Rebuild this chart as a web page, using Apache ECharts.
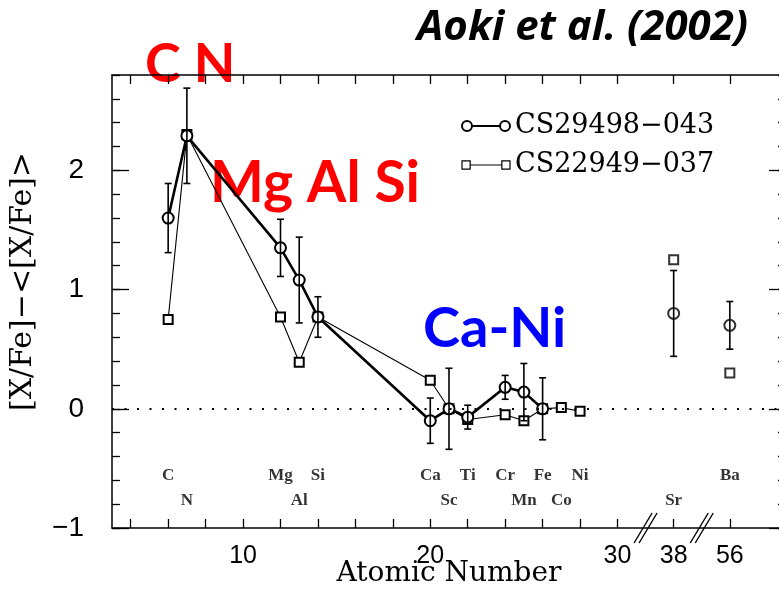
<!DOCTYPE html>
<html><head><meta charset="utf-8">
<script src="https://cdn.jsdelivr.net/npm/echarts@6/dist/echarts.min.js"></script>
<style>html,body{margin:0;padding:0;background:#fff}#c{width:779px;height:595px}</style>
</head><body><div id="c"></div>
<script>
// ---------- data ----------
const elements      = ['C','N','Mg','Al','Si','Ca','Sc','Ti','Cr','Mn','Fe','Co','Ni','Sr','Ba'];
const atomicNumbers = [6, 7, 12, 13, 14, 20, 21, 22, 24, 25, 26, 27, 28, 38, 56];
const labelRows     = [1, 2, 1, 2, 1, 1, 2, 1, 1, 2, 1, 2, 1, 2, 1];

const star1Name   = 'CS29498\u2212043';
const star1Values = [1.60, 2.29, 1.35, 1.08, 0.77, -0.10, 0.00, -0.07, 0.18, 0.14, 0.00, null, null, 0.80, 0.70];
const star1Errors = [0.29, 0.40, 0.24, 0.36, 0.17, 0.19, 0.34, 0.10, 0.10, 0.24, 0.26, null, null, 0.36, 0.20];

const star2Name   = 'CS22949\u2212037';
const star2Values = [0.75, 2.30, 0.77, 0.39, 0.77, 0.24, 0.00, -0.09, -0.05, -0.10, 0.00, 0.01, -0.02, 1.25, 0.30];

// broken axis: atomic numbers beyond 30 are drawn at compressed positions
const brokenAtomicNumbers = [38, 56];
const brokenAxisPositions = [33, 36];
const breakMarkPositions  = [31.5, 34.5];

const xTickLabelValues = [10, 20, 30, 38, 56];
const yTickLabelValues = [-1, 0, 1, 2];

// ---------- helpers ----------
function toAxis(z) {
  const k = brokenAtomicNumbers.indexOf(z);
  return k >= 0 ? brokenAxisPositions[k] : z;
}
const xLabelPositions = xTickLabelValues.map(toAxis);
const xMinorTicks = [];
for (let z = 4; z <= 30; z += 2) xMinorTicks.push(z);
brokenAxisPositions.forEach(p => xMinorTicks.push(p));
const yMinorTicks = [];
for (let k = -5; k <= 14; k++) yMinorTicks.push(Math.round(k * 0.2 * 10) / 10);

function connected(values) {
  const out = [];
  values.forEach((v, i) => { if (v !== null && atomicNumbers[i] <= 30) out.push([toAxis(atomicNumbers[i]), v]); });
  return out;
}
function detached(values) {
  const out = [];
  values.forEach((v, i) => { if (v !== null && atomicNumbers[i] > 30) out.push([toAxis(atomicNumbers[i]), v]); });
  return out;
}
const errorData = [];
star1Values.forEach((v, i) => {
  if (v !== null && star1Errors[i] !== null)
    errorData.push([toAxis(atomicNumbers[i]), v - star1Errors[i], v + star1Errors[i]]);
});
const rowY = [-0.56, -0.77];
const labelData = elements.map((e, i) => [toAxis(atomicNumbers[i]), rowY[labelRows[i] - 1], e]);

const serif = 'DejaVu Serif';
const sans = 'Liberation Sans';
const BLACK = '#000';

const circleIcon = 'path://M0,5 A5,5 0 1,1 10,5 A5,5 0 1,1 0,5 Z M10,5 L38,5 M38,5 A5,5 0 1,1 48,5 A5,5 0 1,1 38,5 Z';
const squareIcon = 'path://M0.5,1 L8.5,1 L8.5,9 L0.5,9 Z M8.5,5 L39.5,5 M39.5,1 L47.5,1 L47.5,9 L39.5,9 Z';

function xAx(pos, labels) {
  return {
    type: 'value', position: pos, min: 3, max: 39,
    axisLine: { show: true, onZero: false, lineStyle: { color: BLACK, width: 1.5 } },
    axisTick: { show: true, inside: true, length: 9, customValues: xMinorTicks, lineStyle: { color: BLACK, width: 1.3 } },
    axisLabel: labels ? {
      show: true, customValues: xLabelPositions, margin: 16,
      formatter: v => String(xTickLabelValues[xLabelPositions.indexOf(v)]),
      fontFamily: sans, fontSize: 25, color: BLACK
    } : { show: false },
    splitLine: { show: false },
    name: labels ? 'Atomic Number' : '',
    nameLocation: 'middle', nameGap: 32, nameMoveOverlap: false,
    nameTextStyle: { fontFamily: serif, fontSize: 28, color: BLACK }
  };
}
function yAx(pos, major, labels) {
  return {
    type: 'value', position: pos, min: -1, max: 2.8,
    axisLine: { show: major, onZero: false, lineStyle: { color: BLACK, width: 1.5 } },
    axisTick: { show: true, inside: true, length: major ? 17 : 8, customValues: major ? yTickLabelValues : yMinorTicks, lineStyle: { color: BLACK, width: 1.3 } },
    axisLabel: labels ? {
      show: true, customValues: yTickLabelValues, margin: 28,
      formatter: v => String(v).replace('-', '\u2212'),
      fontFamily: sans, fontSize: 28, color: BLACK
    } : { show: false },
    splitLine: { show: false },
    name: labels ? '[X/Fe]\u2212<[X/Fe]>' : '',
    nameLocation: 'middle', nameGap: 74, nameRotate: 90, nameMoveOverlap: false,
    nameTextStyle: { fontFamily: serif, fontSize: 30, color: BLACK, padding: [0, 0, 0, 40] }
  };
}

const chart = echarts.init(document.getElementById('c'), null, { renderer: 'canvas' });
chart.setOption({
  backgroundColor: '#fff',
  animation: false,
  title: {
    text: 'Aoki et al. (2002)', left: 412, top: 2,
    textStyle: { fontFamily: 'Open Sans', fontStyle: 'italic', fontWeight: 'bold', fontSize: 42, color: BLACK }
  },
  grid: { left: 112, top: 75, right: -7, bottom: 67, containLabel: false, outerBoundsMode: 'none' },
  legend: {
    left: 456, top: 106, orient: 'vertical',
    itemWidth: 48, itemHeight: 10, itemGap: 9, itemTextGap: 1,
    textStyle: { fontFamily: serif, fontSize: 27, color: BLACK, lineHeight: 30 },
    data: [
      { name: star1Name, icon: circleIcon, itemStyle: { color: '#fff', borderColor: BLACK, borderWidth: 2 } },
      { name: star2Name, icon: squareIcon, itemStyle: { color: '#fff', borderColor: BLACK, borderWidth: 1.2 } }
    ]
  },
  xAxis: [xAx('bottom', true), xAx('top', false)],
  yAxis: [yAx('left', true, true), yAx('left', false, false), yAx('right', true, false), yAx('right', false, false)],
  graphic: [
    { type: 'text', left: 145, top: 38, style: { text: 'C N', fill: '#ff0000', font: 'bold 54px Lato' } },
    { type: 'text', left: 210, top: 155, style: { text: 'Mg Al Si', fill: '#ff0000', font: 'bold 57px Lato' } },
    { type: 'text', left: 423, top: 301, style: { text: 'Ca-Ni', fill: '#0000ff', font: 'bold 56px Lato' } }
  ],
  series: [
    {
      type: 'line', name: star1Name, data: connected(star1Values),
      symbol: 'emptyCircle', symbolSize: 11, z: 4,
      lineStyle: { color: BLACK, width: 2.6 },
      itemStyle: { color: BLACK, borderWidth: 1.3 },
      markLine: {
        silent: true, symbol: 'none', label: { show: false },
        lineStyle: { color: BLACK, type: [2, 10.5], width: 2 },
        data: [{ yAxis: 0 }]
      }
    },
    {
      type: 'scatter', name: star1Name, data: detached(star1Values),
      symbol: 'emptyCircle', symbolSize: 11, z: 4,
      itemStyle: { color: BLACK, borderWidth: 1.3 }
    },
    {
      type: 'line', name: star2Name, data: connected(star2Values),
      symbol: 'emptyRect', symbolSize: 9, z: 3,
      lineStyle: { color: BLACK, width: 1.1 },
      itemStyle: { color: BLACK, borderWidth: 1.2 }
    },
    {
      type: 'scatter', name: star2Name, data: detached(star2Values),
      symbol: 'emptyRect', symbolSize: 9, z: 3,
      itemStyle: { color: BLACK, borderWidth: 1.2 }
    },
    {
      type: 'custom', name: 'errors', data: errorData, z: 5, silent: true,
      encode: { x: 0, y: [1, 2] },
      renderItem: (params, api) => {
        const x = api.value(0);
        const hi = api.coord([x, api.value(2)]);
        const lo = api.coord([x, api.value(1)]);
        const w = 3.5;
        const st = { stroke: BLACK, lineWidth: 1.6 };
        return { type: 'group', children: [
          { type: 'line', shape: { x1: hi[0], y1: hi[1], x2: lo[0], y2: lo[1] }, style: st },
          { type: 'line', shape: { x1: hi[0] - w, y1: hi[1], x2: hi[0] + w, y2: hi[1] }, style: st },
          { type: 'line', shape: { x1: lo[0] - w, y1: lo[1], x2: lo[0] + w, y2: lo[1] }, style: st }
        ]};
      }
    },
    {
      type: 'scatter', name: 'labels', data: labelData, silent: true,
      symbolSize: 1, itemStyle: { color: 'rgba(0,0,0,0)' },
      label: {
        show: true, position: 'inside', formatter: p => p.value[2],
        fontFamily: 'Liberation Serif', fontWeight: 'bold', fontSize: 17, color: BLACK
      }
    },
    {
      type: 'custom', name: 'breaks', data: breakMarkPositions.map(p => [p, -1]), silent: true, clip: false, z: 6,
      renderItem: (params, api) => {
        const c = api.coord([api.value(0), api.value(1)]);
        const st = { stroke: BLACK, lineWidth: 1.4 };
        return { type: 'group', children: [-2.5, 2.5].map(d => ({
          type: 'line', shape: { x1: c[0] + d - 9, y1: c[1] + 15, x2: c[0] + d + 9, y2: c[1] - 15 }, style: st
        }))};
      }
    }
  ]
});
</script>
</body></html>
